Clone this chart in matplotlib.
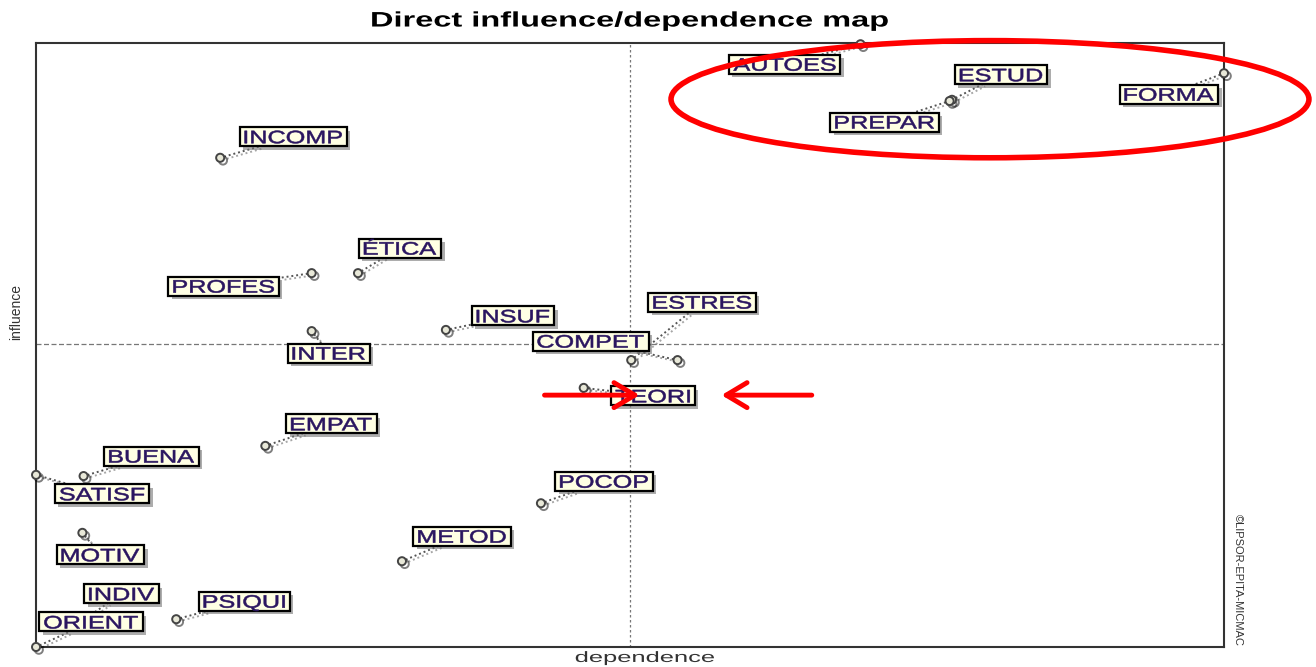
import matplotlib
matplotlib.use("Agg")
from matplotlib import pyplot as plt
from matplotlib.patches import Ellipse, PathPatch, Rectangle
from matplotlib.textpath import TextPath
from matplotlib.font_manager import FontProperties
from matplotlib.transforms import Affine2D, IdentityTransform, ScaledTranslation
import matplotlib.patheffects as pe

plt.rcParams['font.family'] = ['Liberation Sans', 'DejaVu Sans']

# variables of the MICMAC map
names = ["AUTOES", "ESTUD", "PREPAR", "FORMA", "INCOMP", "ÉTICA", "PROFES",
         "INSUF", "INTER", "ESTRES", "COMPET", "TEORI", "EMPAT", "BUENA",
         "SATISF", "POCOP", "METOD", "MOTIV", "INDIV", "PSIQUI", "ORIENT"]
dependence = [69.4, 77.1, 76.9, 100.0, 15.5, 27.1, 23.2,
              34.5, 23.2, 50.1, 54.0, 46.1, 19.3, 4.0,
              0.0, 42.5, 30.8, 3.9, 4.0, 11.8, 0.0]
influence = [99.8, 90.6, 90.4, 95.0, 81.0, 61.9, 61.9,
             52.5, 52.3, 47.5, 47.5, 42.9, 33.3, 28.3,
             28.5, 23.8, 14.2, 18.9, 4.5, 4.6, 0.0]
mean_dep = 50.0
mean_inf = 50.2

# label offsets in pixels (x right, y up)
offsets = [(-76, -20), (49, 25), (-65, -21), (-55, -21), (73, 21), (42, 25), (-88, -13),
           (67, 14), (17, -22), (71, 58), (-87, 19), (69, -8), (66, 22), (68, 20),
           (66, -19), (63, 22), (60, 25), (18, -22), (38, 26), (68, 18), (55, 25)]

fig = plt.figure(figsize=(13.16, 6.67), dpi=100)
ax = fig.add_axes([0.0274, 0.030, 0.9027, 0.9055])
ax.set_xlim(0, 100)
ax.set_ylim(0, 100)
ax.set_xticks([])
ax.set_yticks([])
for s in ax.spines.values():
    s.set_color("#333333")
    s.set_linewidth(1.5)

ax.axvline(mean_dep, color="#777777", lw=0.9, ls=(0, (2, 2)))
ax.axhline(mean_inf, color="#777777", lw=0.9, ls=(0, (4, 2)))


def stretched_text(host, s, anchor, size, sx, weight="normal", color="black", dx=0, dy=0,
                   z=6, stroke=0.0):
    # the reference picture is stretched sideways, so draw text as a widened path
    prop = FontProperties(family="Liberation Sans", weight=weight)
    tp = TextPath((0, 0), s, size=size, prop=prop)
    ext = tp.get_extents()
    w = ext.width
    cap = 0.716 * size
    tr = (Affine2D().translate(-ext.x0 - w / 2, -cap / 2).scale(sx, 1).translate(dx, dy)
          + anchor)
    p = PathPatch(tp, transform=tr, fc=color, ec=color if stroke else "none", lw=stroke,
                  zorder=z, clip_on=False)
    host.add_artist(p)
    return w * sx


shadow = [pe.SimplePatchShadow(offset=(2.5, -2.5), shadow_rgbFace="#777777", alpha=0.6), pe.Normal()]

ax.scatter(dependence, influence, s=34, facecolor="#e8e8d8", edgecolor="#444444",
           linewidth=1.4, zorder=5, clip_on=False,
           path_effects=[pe.SimpleLineShadow(offset=(2, -2), alpha=0.5), pe.Normal()])

for n, x, y, off in zip(names, dependence, influence, offsets):
    anchor = IdentityTransform() + ScaledTranslation(x, y, ax.transData)
    dx, dy = off
    w = stretched_text(ax, n, anchor, 18, 1.4, color="#2a1560", dx=dx, dy=dy, z=7, stroke=0.4)
    bw = w / 2 + 5
    bh = 9.5
    box = Rectangle((dx - bw, dy - bh), 2 * bw, 2 * bh, transform=anchor, fc="#ffffe4",
                    ec="black", lw=1.6, zorder=6, clip_on=False)
    box.set_path_effects(shadow)
    ax.add_artist(box)
    # dotted connector from box edge to the point
    s = min(bw / abs(dx) if dx else 1e9, bh / abs(dy) if dy else 1e9)
    ex, ey = dx * (1 - s), dy * (1 - s)
    L = (dx ** 2 + dy ** 2) ** 0.5
    sx0, sy0 = 4 * dx / L, 4 * dy / L
    ax.plot([sx0, ex], [sy0, ey], transform=anchor, color="#555555", lw=1.4, ls=(0, (1, 1.5)),
            zorder=4, clip_on=False,
            path_effects=[pe.SimpleLineShadow(offset=(2, -1.5), alpha=0.35), pe.Normal()])

# highlight marks
ell = Ellipse((80.3, 90.7), 53.7, 19.4, fill=False, ec="red", lw=4, clip_on=False, zorder=8)
ax.add_patch(ell)
for x0, x1 in [(42.8, 50.8), (65.3, 57.7)]:
    ax.annotate("", xy=(x1, 41.7), xytext=(x0, 41.7), zorder=8, annotation_clip=False,
                arrowprops=dict(arrowstyle="->,head_length=0.75,head_width=0.45", color="red",
                                lw=3.5, shrinkA=0, shrinkB=0, mutation_scale=20))

fig_anchor = IdentityTransform() + ScaledTranslation(0.4787, 0.9715, fig.transFigure)
stretched_text(fig, "Direct influence/dependence map", fig_anchor, 21, 1.55, weight="bold",
               color="black")
stretched_text(fig, "dependence", IdentityTransform() + ScaledTranslation(0.490, 0.0156, fig.transFigure),
               15, 1.7, color="#333333")
fig.text(0.012, 0.532, "influence", ha="center", va="center", fontsize=10, rotation=90,
         color="#333333")
fig.text(0.941, 0.13, "©LIPSOR-EPITA-MICMAC", ha="center", va="center", fontsize=8,
         rotation=270, color="#333333")

fig.savefig("out.png", dpi=100)
